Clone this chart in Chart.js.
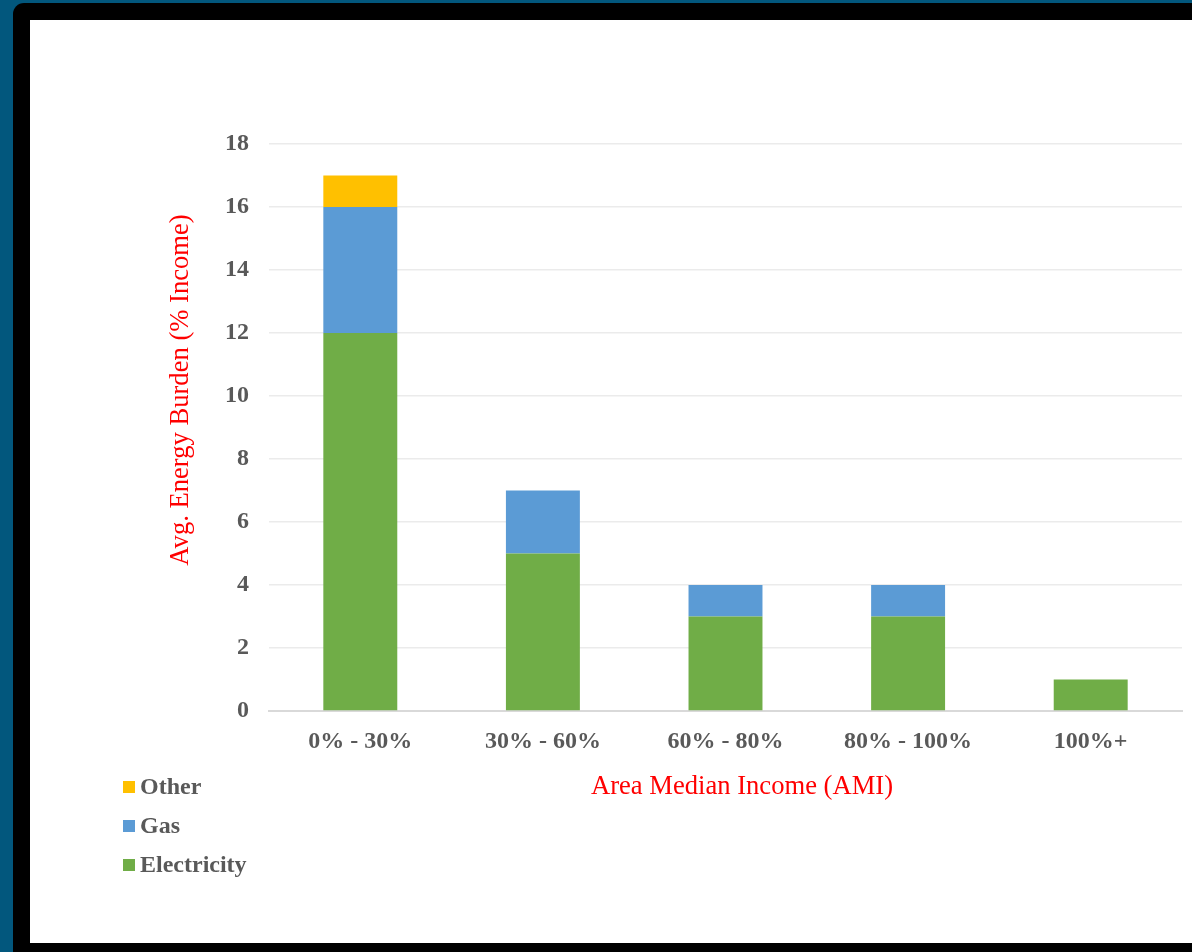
<!DOCTYPE html>
<html>
<head>
<meta charset="utf-8">
<script src="https://cdn.jsdelivr.net/npm/chart.js@4"></script>
<style>
  html, body { margin: 0; padding: 0; }
  body { width: 1192px; height: 952px; background: #02577d; overflow: hidden; position: relative; }
  .frame { position: absolute; left: 13px; top: 3px; width: 1200px; height: 960px; background: #000; border-top-left-radius: 11px; }
  .sheet { position: absolute; left: 30px; top: 20px; width: 1162px; height: 923px; background: #fff; }
</style>
</head>
<body>
<div class="frame"></div>
<div class="sheet"><canvas id="burdenChart" width="1162" height="923"></canvas></div>
<script>
const categories = ['0% - 30%', '30% - 60%', '60% - 80%', '80% - 100%', '100%+']
const electricity = [12, 5, 3, 3, 1]
const gas = [4, 2, 1, 1, 0]
const other = [1, 0, 0, 0, 0]
const yTicks = [0, 2, 4, 6, 8, 10, 12, 14, 16, 18]

const serif = '"Liberation Serif", "Times New Roman", serif'
const grey = '#595959'

// axis titles + legend sit where excel put them, not where chart.js would
const extrasPlugin = {
    id: 'extras',
    afterDraw(chart) {
        const ctx = chart.ctx
        const area = chart.chartArea
        ctx.save()
        ctx.fillStyle = '#ff0000'
        ctx.font = '26.6px ' + serif
        ctx.textAlign = 'center'
        ctx.textBaseline = 'middle'
        ctx.fillText('Area Median Income (AMI)', area.left + 473, area.bottom + 76)

        ctx.translate(area.left - 88, area.top + 246)
        ctx.rotate(-Math.PI / 2)
        ctx.fillText('Avg. Energy Burden (% Income)', 0, 0)
        ctx.restore()

        // legend, top to bottom: Other, Gas, Electricity
        ctx.save()
        ctx.font = 'bold 24px ' + serif
        ctx.textBaseline = 'middle'
        const items = chart.data.datasets.slice().reverse()
        items.forEach((ds, i) => {
            const y = area.bottom + 76 + i * 39
            ctx.fillStyle = ds.backgroundColor
            ctx.fillRect(93, y - 6, 12, 12)
            ctx.fillStyle = grey
            ctx.fillText(ds.label, 110, y + 1)
        })
        ctx.restore()
    }
}

const ctx = document.getElementById('burdenChart').getContext('2d')
const burdenChart = new Chart(ctx, {
    type: 'bar',
    data: {
        labels: categories,
        datasets: [
            { label: 'Electricity', data: electricity, backgroundColor: '#70ad47' },
            { label: 'Gas', data: gas, backgroundColor: '#5b9bd5' },
            { label: 'Other', data: other, backgroundColor: '#ffc000' }
        ]
    },
    options: {
        responsive: false,
        animation: false,
        devicePixelRatio: 1,
        datasets: { bar: { categoryPercentage: 0.81, barPercentage: 0.5 } },
        layout: { padding: { top: 124, right: 10, left: 0, bottom: 0 } },
        plugins: {
            legend: { display: false },
            tooltip: { enabled: false }
        },
        scales: {
            x: {
                stacked: true,
                grid: { display: false, drawTicks: false },
                border: { color: '#d9d9d9', width: 2 },
                ticks: { color: grey, font: { family: serif, size: 24, weight: 'bold' }, padding: 16 },
                afterFit(scale) { scale.height = 232 }
            },
            y: {
                stacked: true,
                min: 0,
                max: 18,
                afterBuildTicks(scale) { scale.ticks = yTicks.map(v => ({ value: v })) },
                grid: { color: '#ebebeb', lineWidth: 1.5, drawTicks: false },
                border: { display: false },
                ticks: { color: grey, font: { family: serif, size: 24, weight: 'bold' }, padding: 20 },
                afterFit(scale) { scale.width = 239 }
            }
        }
    },
    plugins: [extrasPlugin]
})
</script>
</body>
</html>
